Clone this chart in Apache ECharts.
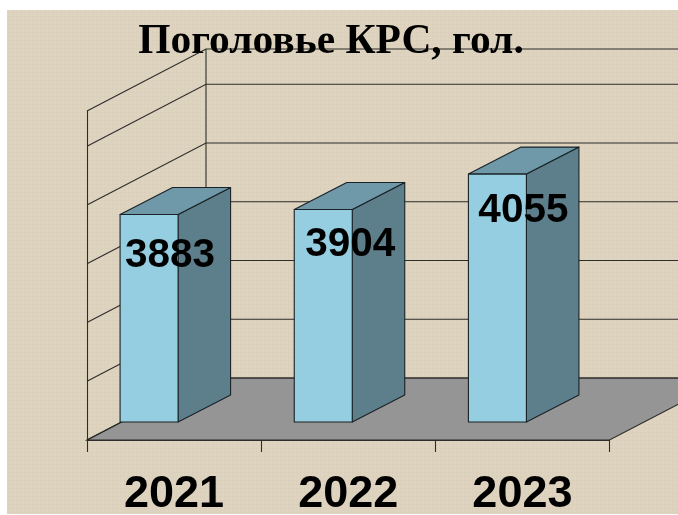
<!DOCTYPE html>
<html>
<head>
<meta charset="utf-8">
<style>html,body{margin:0;padding:0;background:#fff}#c{width:678px;height:515px}</style>
<script src="https://cdn.jsdelivr.net/npm/echarts@6/dist/echarts.min.js"></script>
</head>
<body>
<div id="c"></div>
<script>
const titleText = 'Поголовье КРС, гол.';
const years = ['2021', '2022', '2023'];
const herd = [3883, 3904, 4055];
const wallTicks = [3000, 3250, 3500, 3750, 4000, 4250, 4400];

const AXIS_MIN = 3000, AXIS_MAX = 4400;
const WALL_DX = 119, WALL_DY = -62;      // oblique depth of the chart box
const BAR_DX = -25, BAR_DY = -18;        // front face of a bar relative to its category
const BAR_W = 58, BAR_DEPTH_X = 52.5, BAR_DEPTH_Y = -27;
const LABEL_NUDGE = [[-4, 41], [2, 35], [1, 37]];

function makeTile() {
  const s = 16, cv = document.createElement('canvas');
  cv.width = cv.height = s;
  const g = cv.getContext('2d');
  g.fillStyle = '#ded3be';
  g.fillRect(0, 0, s, s);
  for (let y = 0; y < s; y++) for (let x = 0; x < s; x++) {
    const w = (x % 4 === 0 ? 1 : 0) + (y % 4 === 0 ? 1 : 0);
    const d = (x + y) % 2 === 0;
    if (w) { g.fillStyle = w === 2 ? '#dacfba' : '#dcd1bc'; g.fillRect(x, y, 1, 1); }
    else if (d) { g.fillStyle = '#dfd4c0'; g.fillRect(x, y, 1, 1); }
  }
  return cv;
}

const LINE = '#2c2c2a';

function renderWalls(params, api) {
  const cs = params.coordSys;
  const left = cs.x, right = cs.x + cs.width;
  const y = api.coord([0, api.value(0)])[1];
  const children = [{
    type: 'polyline',
    shape: { points: [[left, y], [left + WALL_DX, y + WALL_DY], [right + WALL_DX, y + WALL_DY]] },
    style: { fill: 'none', stroke: LINE, lineWidth: 1.1 }
  }];
  if (params.dataIndex === 0) {
    children.unshift({
      type: 'polygon',
      shape: { points: [[left, y], [right, y], [right + WALL_DX, y + WALL_DY], [left + WALL_DX, y + WALL_DY]] },
      style: { fill: '#959595', stroke: LINE, lineWidth: 1.1 }
    });
    children.push({
      type: 'line',
      shape: { x1: left + WALL_DX, y1: y + WALL_DY, x2: left + WALL_DX, y2: cs.y + WALL_DY },
      style: { stroke: LINE, lineWidth: 1.1 }
    });
  }
  return { type: 'group', children };
}

function renderBars(params, api) {
  const i = api.value(0);
  const top = api.coord([i, api.value(1)]);
  const base = api.coord([i, AXIS_MIN]);
  const x0 = top[0] + BAR_DX - BAR_W / 2, x1 = x0 + BAR_W;
  const yT = top[1] + BAR_DY, yB = base[1] + BAR_DY;
  const edge = { stroke: '#1a2226', lineWidth: 1.1, lineJoin: 'round' };
  const nudge = LABEL_NUDGE[i];
  return {
    type: 'group',
    children: [
      { type: 'polygon', shape: { points: [[x1, yT], [x1 + BAR_DEPTH_X, yT + BAR_DEPTH_Y], [x1 + BAR_DEPTH_X, yB + BAR_DEPTH_Y], [x1, yB]] }, style: Object.assign({ fill: '#5d7f8b' }, edge) },
      { type: 'polygon', shape: { points: [[x0, yT], [x1, yT], [x1 + BAR_DEPTH_X, yT + BAR_DEPTH_Y], [x0 + BAR_DEPTH_X, yT + BAR_DEPTH_Y]] }, style: Object.assign({ fill: '#6f99a8' }, edge) },
      { type: 'rect', shape: { x: x0, y: yT, width: BAR_W, height: yB - yT }, style: Object.assign({ fill: '#94cee0' }, edge) },
      { type: 'text', style: { x: top[0] + nudge[0], y: yT + nudge[1], text: String(api.value(1)), fill: '#000', font: 'bold 40.5px "Liberation Sans", Arial, sans-serif', textAlign: 'center', textVerticalAlign: 'middle' } }
    ]
  };
}

const chart = echarts.init(document.getElementById('c'), null, { renderer: 'canvas' });
chart.setOption({
  animation: false,
  backgroundColor: '#fff',
  graphic: [{
    type: 'rect', z: -100, silent: true,
    shape: { x: 7, y: 10, width: 671, height: 504 },
    style: { fill: { image: makeTile(), repeat: 'repeat' } }
  }],
  title: {
    text: titleText, left: 326, top: 16, textAlign: 'center', z: 20,
    textStyle: { fontFamily: '"Liberation Serif", "Times New Roman", serif', fontWeight: 'bold', fontSize: 41.5, color: '#000' }
  },
  grid: { left: 87, right: 68.5, top: 111, bottom: 75, outerBoundsMode: 'none' },
  xAxis: {
    type: 'category', data: years, boundaryGap: true, z: 5,
    axisLine: { show: true, lineStyle: { color: LINE, width: 1.1 } },
    axisTick: { show: true, length: 12, alignWithLabel: false, lineStyle: { color: LINE, width: 1.1 } },
    axisLabel: { margin: 32, color: '#000', fontFamily: '"Liberation Sans", Arial, sans-serif', fontWeight: 'bold', fontSize: 45 }
  },
  yAxis: {
    type: 'value', min: AXIS_MIN, max: AXIS_MAX, interval: 250, z: 1,
    axisLine: { show: true, lineStyle: { color: LINE, width: 1.1 } },
    axisTick: { show: false }, axisLabel: { show: false }, splitLine: { show: false }
  },
  series: [
    { type: 'custom', z: 2, silent: true, clip: false, renderItem: renderWalls, data: wallTicks.map(v => [v]), encode: { y: 0 } },
    { type: 'custom', z: 3, silent: true, clip: false, renderItem: renderBars, data: herd.map((v, i) => [i, v]), encode: { x: 0, y: 1 } }
  ]
});
</script>
</body>
</html>
